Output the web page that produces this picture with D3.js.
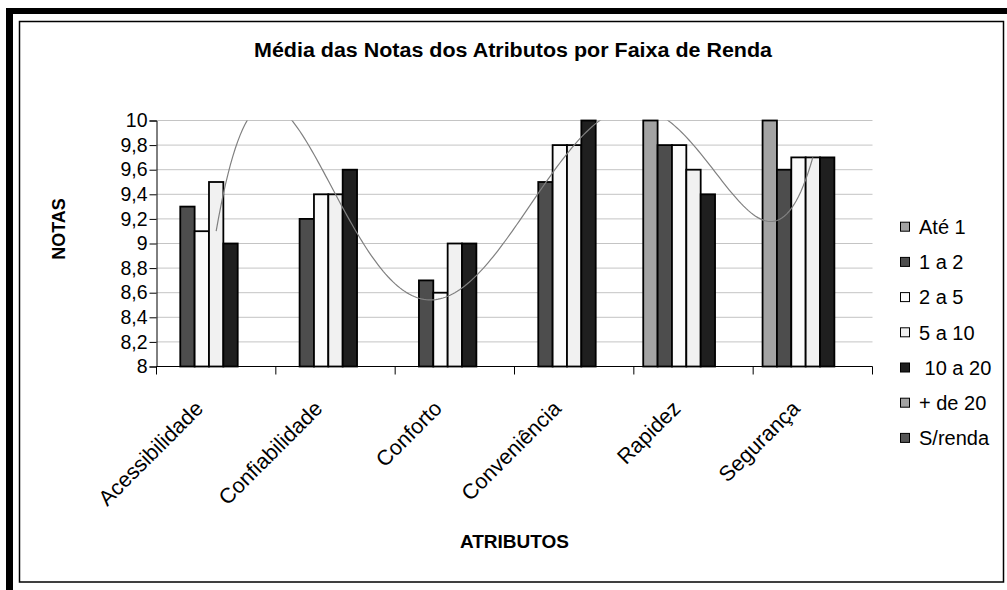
<!DOCTYPE html>
<html><head><meta charset="utf-8">
<script src="https://cdn.jsdelivr.net/npm/d3@7"></script>
<style>
html,body{margin:0;padding:0;background:#fff;}
svg{display:block;font-family:"Liberation Sans",Arial,sans-serif;}
</style></head>
<body><svg id="c" width="1007" height="590"></svg>
<script>
const categories = ["Acessibilidade","Confiabilidade","Conforto","Conveniência","Rapidez","Segurança"];
const seriesNames = ["Até 1","1 a 2","2 a 5","5 a 10"," 10 a 20","+ de 20","S/renda"];
const ate1      = [null, null, null, null, 10.0, 10.0];
const de1a2     = [9.3, 9.2, 8.7, 9.5, 9.8, 9.6];
const de2a5     = [9.1, 9.4, 8.6, 9.8, 9.8, 9.7];
const de5a10    = [9.5, 9.4, 9.0, 9.8, 9.6, 9.7];
const de10a20   = [9.0, 9.6, 9.0, 10.0, 9.4, 9.7];
const maisDe20  = [null, null, null, null, null, null];
const semRenda  = [null, null, null, null, null, null];
const seriesValues = [ate1, de1a2, de2a5, de5a10, de10a20, maisDe20, semRenda];
const seriesColors = ["#a3a3a3","#4d4d4d","#fbfbfb","#f1f1f1","#1f1f1f","#a3a3a3","#555555"];
const yTickValues = [8, 8.2, 8.4, 8.6, 8.8, 9, 9.2, 9.4, 9.6, 9.8, 10];
const yTickLabels = ["8","8,2","8,4","8,6","8,8","9","9,2","9,4","9,6","9,8","10"];
const trendSeries = de2a5; // polynomial trend line (order 5) of "2 a 5"

const svg = d3.select("#c");
const L = 156.5, R = 872.5, T = 120.5, B = 366.5;

// frame
svg.append("rect").attr("x",6).attr("y",8).attr("width",1007).attr("height",600).attr("fill","#000");
svg.append("rect").attr("x",13).attr("y",14).attr("width",1007).attr("height",600).attr("fill","#fff");
svg.append("rect").attr("x",19.5).attr("y",21.5).attr("width",984).attr("height",560.5)
  .attr("fill","#fff").attr("stroke","#000").attr("stroke-width",1.5);

const x0 = d3.scaleBand().domain(categories).range([L, R]).paddingInner(0).paddingOuter(0);
const x1 = d3.scaleBand().domain(seriesNames).range([0, x0.bandwidth()]).paddingInner(0).paddingOuter(0.655);
const y = d3.scaleLinear().domain([8, 10]).range([B, T]);

// gridlines
svg.append("g").selectAll("line").data(yTickValues.slice(1)).join("line")
  .attr("x1", L).attr("x2", R).attr("y1", d => y(d)).attr("y2", d => y(d))
  .attr("stroke", "#c4c4c4").attr("stroke-width", 1);

// bars
const gBars = svg.append("g");
seriesNames.forEach((s, si) => {
  const vals = seriesValues[si];
  gBars.append("g").selectAll("rect")
    .data(categories.map((c, ci) => ({c, v: vals[ci]})).filter(d => d.v != null))
    .join("rect")
    .attr("x", d => x0(d.c) + x1(s))
    .attr("width", x1.bandwidth())
    .attr("y", d => y(d.v))
    .attr("height", d => y(8) - y(d.v))
    .attr("fill", seriesColors[si])
    .attr("stroke", "#000").attr("stroke-width", 1.8);
});

// trend line: polynomial through the "2 a 5" values
const xs = categories.map((c, i) => i + 1);
function poly(t) {
  let s = 0;
  for (let i = 0; i < xs.length; i++) {
    let l = 1;
    for (let j = 0; j < xs.length; j++) if (j !== i) l *= (t - xs[j]) / (xs[i] - xs[j]);
    s += trendSeries[i] * l;
  }
  return s;
}
const xt = d3.scaleLinear().domain([1, categories.length])
  .range([x0(categories[0]) + x0.bandwidth()/2, x0(categories[categories.length-1]) + x0.bandwidth()/2]);
const tpts = d3.range(1, categories.length + 0.0001, 0.02).map(t => [xt(t), y(poly(t))]);
svg.append("clipPath").attr("id","pc").append("rect").attr("x",L).attr("y",T).attr("width",R-L).attr("height",B-T);
svg.append("path").attr("clip-path","url(#pc)").attr("d", d3.line()(tpts))
  .attr("fill","none").attr("stroke","#808080").attr("stroke-width",1.2);

// y axis
const yAxis = d3.axisLeft(y).tickValues(yTickValues).tickSize(7).tickPadding(2)
  .tickFormat((d, i) => yTickLabels[i]);
const gy = svg.append("g").attr("transform", `translate(${L},0)`).call(yAxis);
gy.select(".domain").attr("stroke","#000");
gy.selectAll(".tick line").attr("stroke","#000");
gy.selectAll(".tick text").attr("font-size", 19.5).attr("fill","#000").attr("font-family","Liberation Sans, Arial, sans-serif");

// x axis
const gx = svg.append("g").attr("transform", `translate(0,${B})`);
gx.append("line").attr("x1", L).attr("x2", R).attr("stroke","#000");
gx.selectAll("line.t").data(categories.concat(["__end"])).join("line").attr("class","t")
  .attr("x1", (d,i) => i < categories.length ? x0(d) : R)
  .attr("x2", (d,i) => i < categories.length ? x0(d) : R)
  .attr("y1", 0).attr("y2", 8).attr("stroke","#000");
gx.selectAll("text").data(categories).join("text")
  .attr("transform", d => `translate(${x0(d) + x0.bandwidth()/2 - 17},${38}) rotate(-45)`)
  .attr("text-anchor","end").attr("dy","0.35em")
  .attr("font-size", 21.5).attr("fill","#000").text(d => d);

// titles
svg.append("text").attr("x", 513).attr("y", 57).attr("text-anchor","middle")
  .attr("font-size", 20).attr("font-weight","bold").attr("textLength", 518).attr("lengthAdjust","spacingAndGlyphs")
  .text("Média das Notas dos Atributos por Faixa de Renda");
svg.append("text").attr("x", (L+R)/2).attr("y", 548).attr("text-anchor","middle")
  .attr("font-size", 19).attr("font-weight","bold").text("ATRIBUTOS");
svg.append("text").attr("transform","translate(65,229) rotate(-90)").attr("text-anchor","middle")
  .attr("font-size", 18).attr("font-weight","bold").text("NOTAS");

// legend
const lg = svg.append("g").selectAll("g").data(seriesNames).join("g")
  .attr("transform", (d,i) => `translate(900,${226.7 + i*35.2})`);
lg.append("rect").attr("x",0.5).attr("y",-4.5).attr("width",9).attr("height",9)
  .attr("fill",(d,i) => seriesColors[i]).attr("stroke","#000").attr("stroke-width",1);
lg.append("text").attr("x",19).attr("dy","0.36em").attr("font-size",20)
  .attr("xml:space","preserve").style("white-space","pre").text(d => d);
</script></body></html>
